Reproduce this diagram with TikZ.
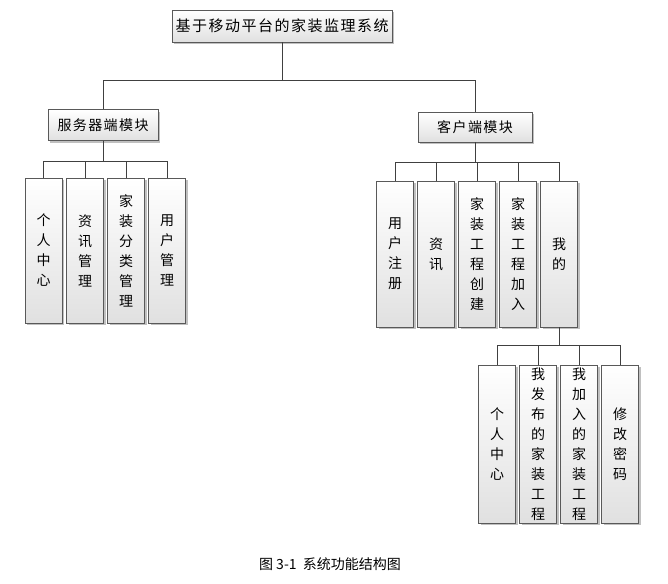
\documentclass[tikz,border=0pt]{standalone}
\usepackage{fontspec}
\usetikzlibrary{shadows}
\newfontfamily\cjk{Noto Sans CJK SC}
\newfontfamily\cjkwide[LetterSpace=10]{Noto Sans CJK SC}
\begin{document}
\begin{tikzpicture}[x=1pt,y=-1pt,
    box/.style={draw=black!65, line width=0.8pt, top color=white, bottom color=black!12,
        drop shadow={shadow xshift=2pt, shadow yshift=-2pt, fill=black!45, opacity=0.55}, inner sep=0pt},
    hbox/.style={box, font=\cjkwide\fontsize{14}{16}\selectfont},
    vbox/.style={box, minimum width=37pt, align=center, font=\cjk\fontsize{14}{20}\selectfont},
    link/.style={draw=black!75, line width=0.8pt}]
    \useasboundingbox (0,0) rectangle (668,583);

    % top level
    \node[hbox, font=\cjkwide\fontsize{15}{17}\selectfont, minimum width=220pt, minimum height=32pt] (root) at (282,26) {基于移动平台的家装监理系统};
    \node[hbox, minimum width=110pt, minimum height=31pt] (server) at (103,125) {服务器端模块};
    \node[hbox, minimum width=114pt, minimum height=30pt] (client) at (475,127) {客户端模块};

    % server side
    \node[vbox, minimum height=145pt] (s1) at (43.5,250.5) {个\\人\\中\\心};
    \node[vbox, minimum height=145pt] (s2) at (85,250.5) {资\\讯\\管\\理};
    \node[vbox, minimum height=145pt] (s3) at (126,250.5) {家\\装\\分\\类\\管\\理};
    \node[vbox, minimum height=145pt] (s4) at (167,250.5) {用\\户\\管\\理};

    % client side
    \node[vbox, minimum height=146pt] (c1) at (395,254) {用\\户\\注\\册};
    \node[vbox, minimum height=146pt] (c2) at (436,254) {资\\讯};
    \node[vbox, minimum height=146pt] (c3) at (477,254) {家\\装\\工\\程\\创\\建};
    \node[vbox, minimum height=146pt] (c4) at (518,254) {家\\装\\工\\程\\加\\入};
    \node[vbox, minimum height=146pt] (c5) at (559,254) {我\\的};

    % mine
    \node[vbox, minimum height=158pt] (m1) at (497,444) {个\\人\\中\\心};
    \node[vbox, minimum height=158pt] (m2) at (538,444) {我\\发\\布\\的\\家\\装\\工\\程};
    \node[vbox, minimum height=158pt] (m3) at (579,444) {我\\加\\入\\的\\家\\装\\工\\程};
    \node[vbox, minimum height=158pt] (m4) at (620,444) {修\\改\\密\\码};

    % connectors
    \draw[link] (root.south) -- ++(0,38) coordinate (top);
    \draw[link] (server.north) |- (top) -| (client.north);
    \foreach \n in {s1,s2,s3,s4}
        \draw[link] (server.south) -- ++(0,20) -| (\n.north);
    \foreach \n in {c1,c2,c3,c4,c5}
        \draw[link] (client.south) -- ++(0,20) -| (\n.north);
    \foreach \n in {m1,m2,m3,m4}
        \draw[link] (c5.south) -- ++(0,18) -| (\n.north);

    \node[font=\cjk\fontsize{14}{16}\selectfont] (caption) at (330,564) {图 3-1 \ 系统功能结构图};
\end{tikzpicture}
\end{document}
